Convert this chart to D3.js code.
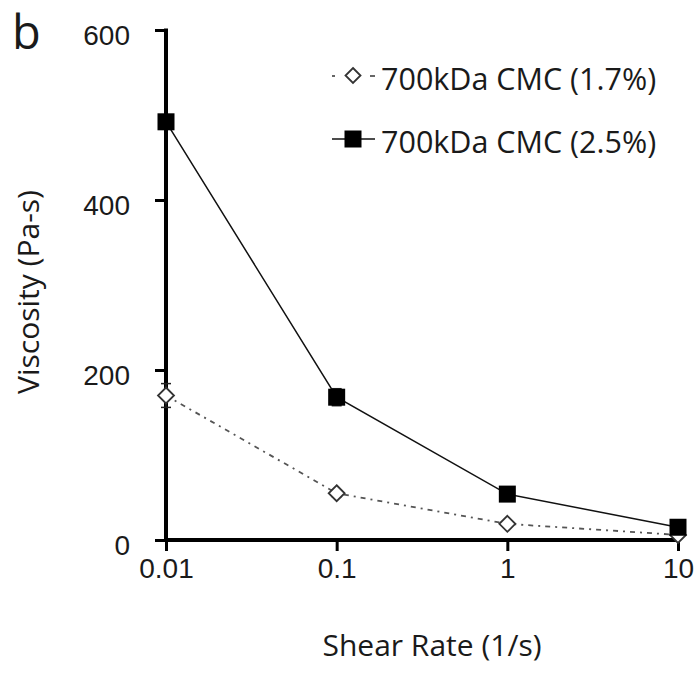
<!DOCTYPE html>
<html><head><meta charset="utf-8">
<script src="https://cdn.jsdelivr.net/npm/d3@7/dist/d3.min.js"></script>
<style>
body{margin:0;background:#fff;}
svg{display:block;font-family:"Open Sans",sans-serif;}
</style></head><body>
<svg id="c" width="699" height="673"></svg>
<script>
const shearRates = [0.01, 0.1, 1, 10];
const xTickLabels = ["0.01", "0.1", "1", "10"];
const yTicks = [0, 200, 400, 600];
const seriesNames = ["700kDa CMC (1.7%)", "700kDa CMC (2.5%)"];
const visc17 = [170, 55, 19, 6];
const err17 = [14, 4, 3, 3];
const visc25 = [492, 168, 54, 15];
const err25 = [8, 10, 4, 3];

const svg = d3.select("#c");
const x = d3.scaleLog().domain([0.01, 10]).range([166, 678]);
const y = d3.scaleLinear().domain([0, 600]).range([540, 30]);

// axes
const yAxis = d3.axisLeft(y).tickValues(yTicks).tickSize(11).tickPadding(25).tickFormat(d3.format("d"));
const gy = svg.append("g").attr("transform", "translate(166,0)").call(yAxis);
const xAxis = d3.axisBottom(x).tickValues(shearRates).tickSize(11).tickPadding(27)
  .tickFormat((d, i) => xTickLabels[i]);
const gx = svg.append("g").attr("transform", "translate(0,540)").call(xAxis);
[gy, gx].forEach(g => {
  g.select(".domain").remove();
  g.selectAll(".tick line").attr("stroke", "#000").attr("stroke-width", 3);
  g.selectAll(".tick text").attr("fill", "#1a1a1a").style("font-size", "28px");
});
gx.selectAll(".tick text").attr("dy", "0");
gy.selectAll(".tick text").attr("dy", "0.5em");
svg.append("line").attr("x1", 166).attr("x2", 166).attr("y1", y(600) - 1.5).attr("y2", y(0) + 2)
  .attr("stroke", "#000").attr("stroke-width", 4);
svg.append("line").attr("x1", 164).attr("x2", 679).attr("y1", y(0)).attr("y2", y(0))
  .attr("stroke", "#000").attr("stroke-width", 4);

// labels
svg.append("text").attr("x", 432).attr("y", 656).attr("text-anchor", "middle")
  .attr("fill", "#1a1a1a").style("font-size", "30px").text("Shear Rate (1/s)");
svg.append("text").attr("transform", "translate(39,292) rotate(-90)").attr("text-anchor", "middle")
  .attr("fill", "#1a1a1a").style("font-size", "30px").text("Viscosity (Pa-s)");
svg.append("text").attr("x", 12).attr("y", 49).attr("fill", "#1a1a1a")
  .style("font-size", "47px").text("b");

const line = d3.line().x(d => x(d[0])).y(d => y(d[1]));
const d17 = shearRates.map((s, i) => [s, visc17[i], err17[i]]);
const d25 = shearRates.map((s, i) => [s, visc25[i], err25[i]]);

// lines
svg.append("path").datum(d17).attr("d", line).attr("fill", "none")
  .attr("stroke", "#555").attr("stroke-width", 1.8).attr("stroke-dasharray", "5,5,2,5");
svg.append("path").datum(d25).attr("d", line).attr("fill", "none")
  .attr("stroke", "#111").attr("stroke-width", 1.5);

// error bars
function errBars(data) {
  const g = svg.append("g").attr("stroke", "#222").attr("stroke-width", 1.5);
  data.forEach(d => {
    g.append("line").attr("x1", x(d[0])).attr("x2", x(d[0])).attr("y1", y(d[1] - d[2])).attr("y2", y(d[1] + d[2]));
    [d[1] - d[2], d[1] + d[2]].forEach(v => g.append("line")
      .attr("x1", x(d[0]) - 5).attr("x2", x(d[0]) + 5).attr("y1", y(v)).attr("y2", y(v)));
  });
}
errBars(d17);
errBars(d25);

// markers
const diamond = s => `M0,${-s}L${s},0L0,${s}L${-s},0Z`;
svg.append("g").selectAll("path").data(d17).join("path")
  .attr("transform", d => `translate(${x(d[0])},${y(d[1])})`)
  .attr("d", diamond(8)).attr("fill", "#fff").attr("stroke", "#333").attr("stroke-width", 1.8);
svg.append("g").selectAll("rect").data(d25).join("rect")
  .attr("x", d => x(d[0]) - 8.5).attr("y", d => y(d[1]) - 8.5)
  .attr("width", 17).attr("height", 17).attr("fill", "#000");

// legend
const lg = svg.append("g");
[[332, 335], [370, 375]].forEach(s => lg.append("line")
  .attr("x1", s[0]).attr("x2", s[1]).attr("y1", 76).attr("y2", 76)
  .attr("stroke", "#555").attr("stroke-width", 1.8));
lg.append("path").attr("transform", "translate(353,75.5)").attr("d", diamond(7.5))
  .attr("fill", "#fff").attr("stroke", "#333").attr("stroke-width", 1.8);
lg.append("line").attr("x1", 332).attr("x2", 375).attr("y1", 139).attr("y2", 139)
  .attr("stroke", "#111").attr("stroke-width", 1.5);
lg.append("rect").attr("x", 353 - 8.5).attr("y", 139 - 8.5).attr("width", 17).attr("height", 17).attr("fill", "#000");
lg.selectAll("text").data(seriesNames).join("text")
  .attr("x", 381).attr("y", (d, i) => 79.5 + i * 63).attr("dy", "0.36em")
  .attr("fill", "#1a1a1a").style("font-size", "30.5px").text(d => d);
</script>
</body></html>
